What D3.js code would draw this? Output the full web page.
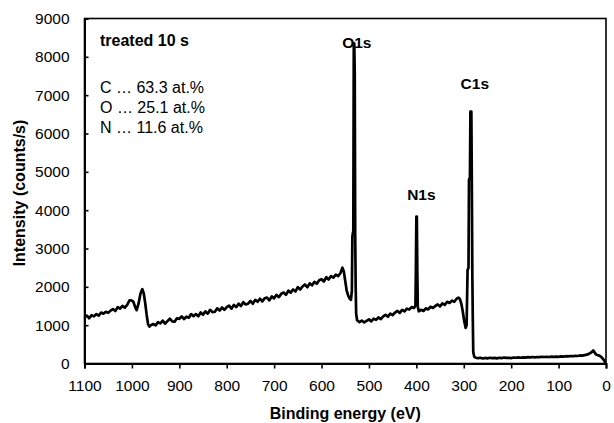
<!DOCTYPE html>
<html><head><meta charset="utf-8">
<script src="https://cdn.jsdelivr.net/npm/d3@7"></script>
<style>body{margin:0;background:#fff}svg{display:block}text{font-family:"Liberation Sans",Arial,sans-serif;fill:#000}</style>
</head><body><svg id="c" width="614" height="423"></svg>
<script>
const bindingEnergy = [1100,1095,1090,1085,1080,1075,1070,1065,1060,1055,1050,1045,1040,1035,1030,1025,1020,1015,1010,1005,1000,997,993,990,986,982,978,975,972,969,966,963,960,955,950,945,940,935,930,925,920,915,910,905,900,895,890,885,880,875,870,865,860,855,850,845,840,835,830,825,820,815,810,805,800,795,790,785,780,775,770,765,760,755,750,745,740,735,730,725,720,715,710,705,700,695,690,685,680,675,670,665,660,655,650,645,640,635,630,625,620,615,610,605,600,595,590,585,580,575,570,565,560,556,553,550,547,544,541,538,536,535,534,533,532,531,530,529,528,527,525,520,515,510,505,500,495,490,485,480,475,470,465,460,455,450,445,440,435,430,425,420,415,410,405,402,401,400,399,398,397,395,390,385,380,375,370,365,360,355,350,345,340,335,330,325,320,315,311,308,305,302,299,296,294,292,290,289,287,286,284,283,282,281,280,278,275,270,265,260,255,250,245,240,235,230,225,220,215,210,205,200,195,190,185,180,175,170,165,160,155,150,145,140,135,130,125,120,115,110,105,100,95,90,85,80,75,70,65,60,55,50,45,40,35,30,27,25,22,20,15,10,5,2,0];
const intensity = [1210,1250,1180,1260,1230,1290,1250,1330,1300,1350,1320,1380,1420,1370,1470,1430,1500,1460,1530,1650,1640,1610,1470,1390,1560,1820,1940,1830,1580,1280,1030,960,1000,1030,995,1080,1045,1120,1040,1105,1170,1100,1090,1180,1165,1225,1160,1220,1195,1290,1235,1290,1230,1330,1270,1360,1300,1400,1340,1350,1440,1380,1460,1400,1470,1510,1430,1530,1470,1560,1500,1600,1540,1560,1630,1560,1660,1610,1690,1620,1700,1720,1650,1750,1700,1790,1730,1820,1850,1790,1900,1850,1930,1880,1990,1930,2010,2060,1990,2090,2040,2130,2080,2170,2200,2140,2250,2190,2280,2240,2320,2280,2360,2500,2400,2150,1900,1780,1700,1660,1900,3300,3400,3450,8300,8350,7600,3400,2000,1300,1130,1080,1120,1070,1110,1150,1100,1170,1140,1200,1160,1230,1270,1220,1300,1260,1330,1370,1320,1400,1360,1430,1410,1470,1450,1510,2450,3830,3830,2450,1490,1360,1400,1370,1440,1410,1480,1450,1500,1540,1490,1570,1530,1610,1580,1640,1610,1690,1720,1680,1550,1350,1100,930,1000,2440,2500,4800,4850,6570,6570,4700,2400,1200,300,180,150,140,150,130,145,135,150,140,145,135,150,140,155,145,150,140,155,150,160,150,160,155,165,160,170,160,170,165,175,170,175,170,180,175,180,175,185,180,190,185,195,190,200,195,210,205,220,230,260,300,340,310,250,230,210,170,100,40,20];
const xTicks = [1100,1000,900,800,700,600,500,400,300,200,100,0];
const yTicks = [0,1000,2000,3000,4000,5000,6000,7000,8000,9000];
const peakLabels = ["O1s","N1s","C1s"];
const peakEnergy = [532,400,283];
const peakIntensity = [8240,4270,7170];
const sampleTitle = "treated 10 s";
const composition = ["C … 63.3 at.%","O … 25.1 at.%","N … 11.6 at.%"];

const svg = d3.select("#c");
const L = 84.5, R = 606, T = 18.5, B = 363.5;
const x = d3.scaleLinear().domain([1100,0]).range([L,R]);
const y = d3.scaleLinear().domain([0,9000]).range([B,T]);

// frame
svg.append("rect").attr("x",L).attr("y",T).attr("width",R-L).attr("height",B-T)
  .attr("fill","none").attr("stroke","#000").attr("stroke-width",1.6);

// spectrum
const pts = bindingEnergy.map((e,i)=>[e,intensity[i]]);
svg.append("path").datum(pts)
  .attr("d", d3.line().x(d=>x(d[0])).y(d=>y(d[1])))
  .attr("fill","none").attr("stroke","#000").attr("stroke-width",2.7).attr("stroke-linejoin","round");

// axes
const xa = svg.append("g").attr("transform",`translate(0,${B})`)
  .call(d3.axisBottom(x).tickValues(xTicks).tickSize(5).tickPadding(11).tickFormat(d3.format("d")));
const ya = svg.append("g").attr("transform",`translate(${L},0)`)
  .call(d3.axisLeft(y).tickValues(yTicks).tickSize(-4).tickPadding(15).tickFormat(d3.format("d")));
[xa,ya].forEach(g=>{
  g.select(".domain").attr("stroke","#000").attr("stroke-width",2);
  g.selectAll(".tick line").attr("stroke","#000").attr("stroke-width",1.6);
  g.selectAll(".tick text").attr("font-size",15.5).attr("font-family","Liberation Sans, Arial, sans-serif").attr("fill","#000");
});

// axis titles
svg.append("text").attr("x",(L+R)/2).attr("y",419).attr("text-anchor","middle")
  .attr("font-size",16).attr("font-weight","bold").text("Binding energy (eV)");
svg.append("text").attr("transform",`translate(25,${(T+B)/2+2}) rotate(-90)`).attr("text-anchor","middle")
  .attr("font-size",16).attr("font-weight","bold").text("Intensity (counts/s)");

// peak labels
const peakDx = [3,5,3];
peakLabels.forEach((lab,i)=>{
  svg.append("text").attr("x",x(peakEnergy[i])+peakDx[i]).attr("y",y(peakIntensity[i]))
    .attr("text-anchor","middle").attr("font-size",15.5).attr("font-weight","bold").text(lab);
});

// annotations
svg.append("text").attr("x",100).attr("y",46).attr("font-size",16).attr("font-weight","bold").text(sampleTitle);
composition.forEach((t,i)=>{
  svg.append("text").attr("x",100).attr("y",93+i*20).attr("font-size",16).text(t);
});
</script></body></html>
